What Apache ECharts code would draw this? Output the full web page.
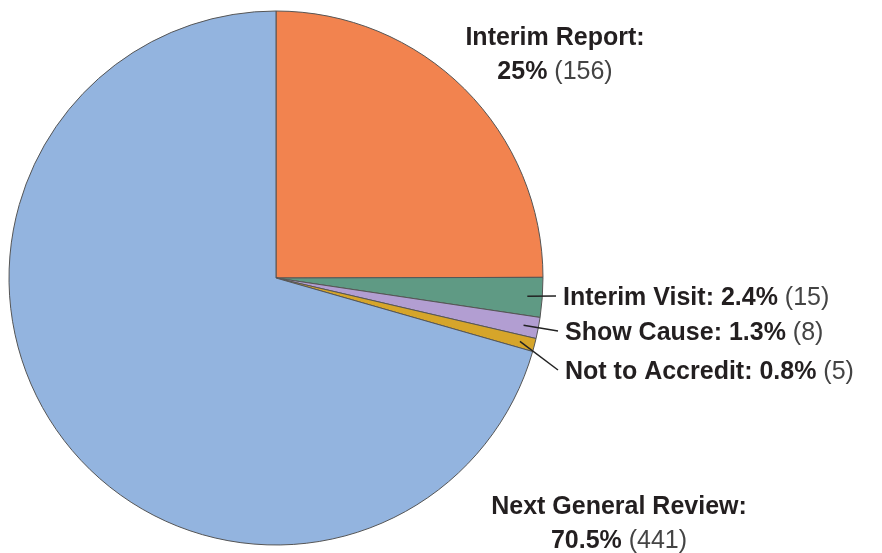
<!DOCTYPE html>
<html>
<head>
<meta charset="utf-8">
<script src="https://cdn.jsdelivr.net/npm/echarts@6/dist/echarts.min.js"></script>
<style>
  html, body { margin: 0; padding: 0; background: #fff; }
  #chart { width: 882px; height: 553px; }
</style>
</head>
<body>
<div id="chart"></div>
<script>
// slices, clockwise from 12 o'clock
const categories = ['Interim Report', 'Interim Visit', 'Show Cause', 'Not to Accredit', 'Next General Review'];
const counts = [156, 15, 8, 5, 441];
const percents = ['25', '2.4', '1.3', '0.8', '70.5'];
const colors = ['#f2834f', '#5f9a84', '#b29ed2', '#d6a52a', '#93b4df'];

// label anchor spots (x, y, align) and whether they get a leader line
const labelSpots = [
  {x: 555, y: 55, align: 'center', twoLines: true, line: false},
  {x: 563, y: 298, align: 'left', twoLines: false, line: true},
  {x: 565, y: 333, align: 'left', twoLines: false, line: true},
  {x: 565, y: 372, align: 'left', twoLines: false, line: true},
  {x: 619, y: 524, align: 'center', twoLines: true, line: false}
];

const cx = 276, cy = 278, R = 267;
const font = 'Liberation Sans, Arial, Helvetica, sans-serif';

const chart = echarts.init(document.getElementById('chart'));

const seriesData = categories.map((name, i) => ({
  name: name,
  value: counts[i],
  itemStyle: {color: colors[i]}
}));

// leader lines: from inside the slice (at its mid angle) to the label
const total = counts.reduce((a, b) => a + b, 0);
const leaders = [];
let acc = 0;
counts.forEach((v, i) => {
  const mid = (acc + v / 2) / total * 2 * Math.PI; // clockwise from top
  acc += v;
  if (!labelSpots[i].line) return;
  const r = R - 15;
  leaders.push({
    type: 'line',
    silent: true,
    z: 10,
    shape: {
      x1: cx + r * Math.sin(mid), y1: cy - r * Math.cos(mid),
      x2: labelSpots[i].x - 7, y2: labelSpots[i].y - 2
    },
    style: {stroke: '#222', lineWidth: 1.5}
  });
});

chart.setOption({
  animation: false,
  graphic: leaders,
  series: [{
    type: 'pie',
    center: [cx, cy],
    radius: R,
    startAngle: 90,
    clockwise: true,
    avoidLabelOverlap: false,
    itemStyle: {borderColor: '#555', borderWidth: 1},
    label: {
      show: true,
      position: 'outside',
      formatter: (p) => {
        const i = p.dataIndex;
        if (labelSpots[i].twoLines) {
          return '{b|' + p.name + ':}\n{b|' + percents[i] + '% }{c|(' + counts[i] + ')}';
        }
        return '{b|' + p.name + ': ' + percents[i] + '% }{c|(' + counts[i] + ')}';
      },
      rich: {
        b: {fontFamily: font, fontWeight: 'bold', fontSize: 25, color: '#231f20', lineHeight: 34},
        c: {fontFamily: font, fontWeight: 'normal', fontSize: 25, color: '#444', lineHeight: 34}
      }
    },
    labelLine: {show: false},
    labelLayout: (p) => {
      const s = labelSpots[p.dataIndex];
      return {x: s.x, y: s.y, align: s.align, verticalAlign: 'middle'};
    },
    data: seriesData
  }]
});
</script>
</body>
</html>
